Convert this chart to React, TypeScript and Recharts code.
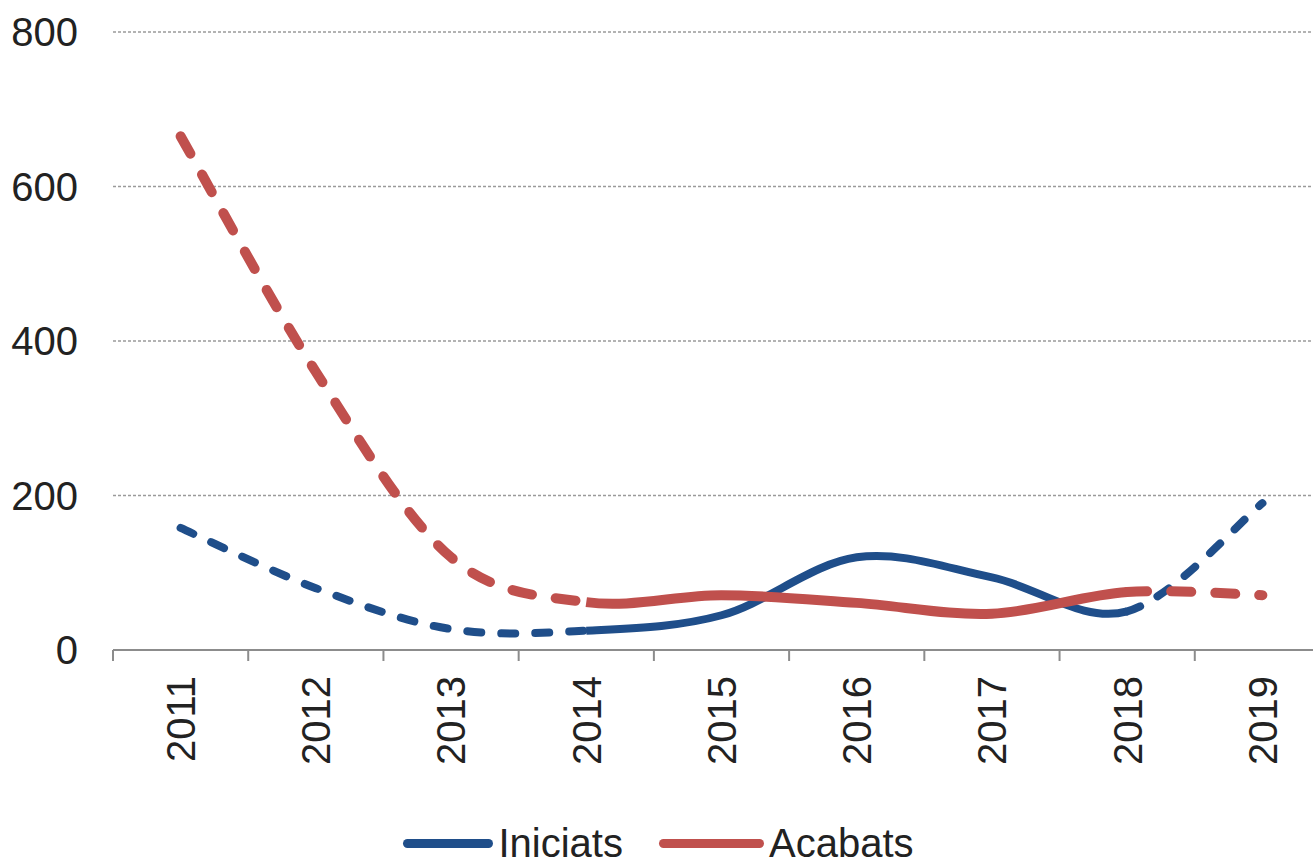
import React from "react";
import { LineChart, Line, XAxis, YAxis, CartesianGrid } from "recharts";

const years = ["2011", "2012", "2013", "2014", "2015", "2016", "2017", "2018", "2019"];
const iniciats = [158, 80, 27, 25, 45, 120, 94, 50, 190];
const acabats = [665, 360, 120, 62, 71, 61, 47, 75, 71];
const yTicks = [0, 200, 400, 600, 800];
const seriesNames = ["Iniciats", "Acabats"];

const BLUE = "#1F4E8A";
const RED = "#C0504D";
const FONT = "'Liberation Sans', Arial, sans-serif";

const data = years.map((year, i) => ({ year, idx: i, iniciats: iniciats[i], acabats: acabats[i] }));
const boundaryTicks = years.map((_, i) => i - 0.5).concat([years.length - 0.5]);

// Excel-like smoothed curve (Catmull-Rom Bezier) drawn only between point indices i0..i1,
// while using all points for tangents so joined segments stay continuous.
function segmentCurve(i0: number, i1: number) {
  return (context: any) => {
    let pts: number[][] = [];
    return {
      areaStart() {},
      areaEnd() {},
      lineStart() {
        pts = [];
      },
      point(x: number, y: number) {
        pts.push([+x, +y]);
      },
      lineEnd() {
        const n = pts.length;
        if (n < 2) return;
        const a = Math.max(0, i0);
        const b = Math.min(n - 1, i1);
        context.moveTo(pts[a][0], pts[a][1]);
        for (let i = a; i < b; i++) {
          const p0 = pts[Math.max(0, i - 1)];
          const p1 = pts[i];
          const p2 = pts[i + 1];
          const p3 = pts[Math.min(n - 1, i + 2)];
          context.bezierCurveTo(
            p1[0] + (p2[0] - p0[0]) / 6,
            p1[1] + (p2[1] - p0[1]) / 6,
            p2[0] - (p3[0] - p1[0]) / 6,
            p2[1] - (p3[1] - p1[1]) / 6,
            p2[0],
            p2[1]
          );
        }
      },
    };
  };
}

const YearTick = (props: any) => {
  const { x, y, payload } = props;
  return (
    <text
      x={x}
      y={y}
      transform={`rotate(-90, ${x}, ${y})`}
      textAnchor="end"
      dy="0.36em"
      fontSize={40}
      fill="#222"
      fontFamily={FONT}
    >
      {payload.value}
    </text>
  );
};

const EmptyTick = () => <g />;

const segments = [
  { from: 0, to: 3, dashed: true },
  { from: 3, to: 7, dashed: false },
  { from: 7, to: 8, dashed: true },
];

export default function App() {
  return (
    <div style={{ position: "absolute", left: 0, top: 0, width: 1313, height: 863, overflow: "hidden", background: "#fff" }}>
      <LineChart width={1340} height={863} data={data} margin={{ top: 32, right: 10, left: 0, bottom: 0 }}>
        <CartesianGrid horizontal vertical={false} stroke="#9a9a9a" strokeWidth={1.5} strokeDasharray="3 2" />
        <XAxis
          dataKey="idx"
          type="number"
          domain={[-0.5, years.length - 0.5]}
          allowDataOverflow
          ticks={boundaryTicks}
          interval={0}
          tick={<EmptyTick />}
          height={1}
          tickSize={11}
          axisLine={{ stroke: "#8c8c8c", strokeWidth: 2 }}
          tickLine={{ stroke: "#8c8c8c", strokeWidth: 2 }}
        />
        <XAxis
          xAxisId="labels"
          dataKey="year"
          scale="band"
          height={212}
          interval={0}
          axisLine={false}
          tickLine={false}
          tickSize={0}
          tickMargin={25}
          tick={<YearTick />}
        />
        <YAxis
          domain={[0, 800]}
          ticks={yTicks}
          width={113}
          axisLine={false}
          tickLine={false}
          tickSize={0}
          tickMargin={35}
          tick={{ fontSize: 40, fill: "#222", fontFamily: FONT }}
        />
        {segments.map((s, k) => (
          <Line
            key={"i" + k}
            xAxisId="labels"
            dataKey="iniciats"
            name={seriesNames[0]}
            type={segmentCurve(s.from, s.to) as any}
            stroke={BLUE}
            strokeWidth={8}
            strokeLinecap={s.dashed ? "round" : "butt"}
            strokeDasharray={s.dashed ? "14 20" : undefined}
            dot={false}
            activeDot={false}
            isAnimationActive={false}
          />
        ))}
        {segments.map((s, k) => (
          <Line
            key={"a" + k}
            xAxisId="labels"
            dataKey="acabats"
            name={seriesNames[1]}
            type={segmentCurve(s.from, s.to) as any}
            stroke={RED}
            strokeWidth={10}
            strokeLinecap={s.dashed ? "round" : "butt"}
            strokeDasharray={s.dashed ? "20 24" : undefined}
            dot={false}
            activeDot={false}
            isAnimationActive={false}
          />
        ))}
      </LineChart>
      <div
        style={{
          position: "absolute",
          left: 0,
          top: 826,
          width: 1313,
          display: "flex",
          justifyContent: "center",
          alignItems: "center",
          fontFamily: FONT,
          fontSize: 40,
          color: "#222",
          lineHeight: "34px",
        }}
      >
        {[BLUE, RED].map((c, i) => (
          <div key={i} style={{ display: "flex", alignItems: "center", marginLeft: i ? 36 : 0, position: "relative", left: 2 }}>
            <div style={{ width: i ? 105 : 90, height: 9, borderRadius: 5, background: c, marginRight: 5 }} />
            <span>{seriesNames[i]}</span>
          </div>
        ))}
      </div>
    </div>
  );
}
